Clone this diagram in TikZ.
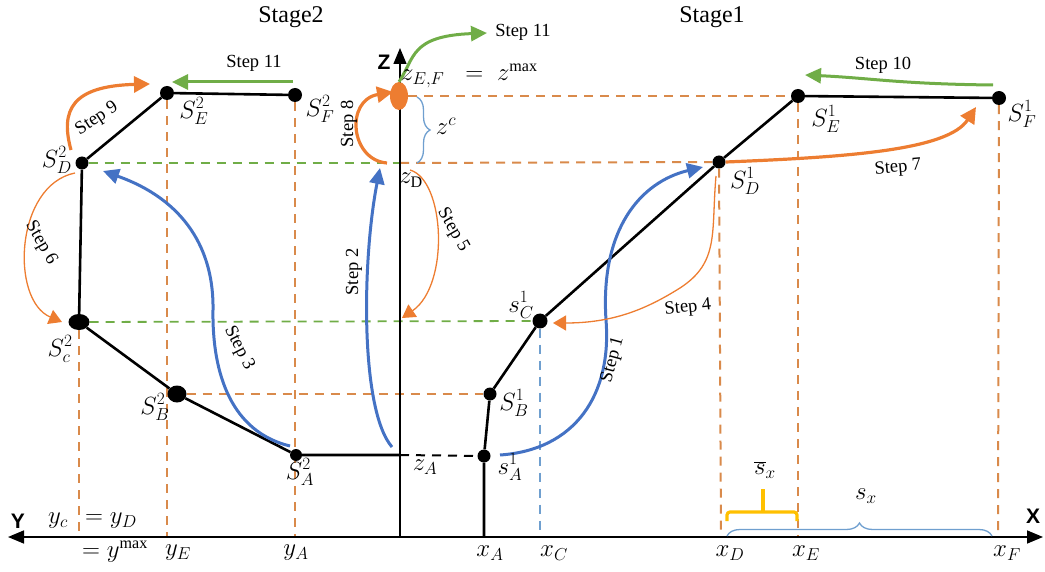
\documentclass[tikz,border=0pt]{standalone}
\usepackage{fontspec}
\setmainfont{Liberation Serif}
\newfontfamily\axfont{Liberation Sans}
\usetikzlibrary{arrows.meta,decorations.pathreplacing,shapes.geometric}
\definecolor{orng}{HTML}{ED7D31}
\definecolor{dorng}{HTML}{D98A4B}
\definecolor{blu}{HTML}{4472C4}
\definecolor{lblu}{HTML}{6F9FCF}
\definecolor{grn}{HTML}{70AD47}
\definecolor{gold}{HTML}{FFC000}
\pgfdeclarelayer{background}
\pgfsetlayers{background,main}
\begin{document}
\begin{tikzpicture}[x=1pt,y=-1pt,
  dot/.style={circle,fill=black,inner sep=0pt,minimum size=13pt},
  bigdot/.style={ellipse,fill=black,inner sep=0pt,minimum width=21pt,minimum height=16pt},
  stg/.style={line width=2.6pt,black},
  odash/.style={dorng,line width=2pt,dash pattern=on 9pt off 7pt},
  gdash/.style={grn,line width=1.8pt,dash pattern=on 9pt off 7pt},
  bdash/.style={lblu,line width=2pt,dash pattern=on 9pt off 7pt},
  kdash/.style={black,line width=2pt,dash pattern=on 9pt off 7pt},
  bluearr/.style={blu,line width=3pt,-{Triangle[length=16pt,width=15pt]}},
  othick/.style={orng,line width=3.2pt,-{Triangle[length=16pt,width=16pt]}},
  othin/.style={orng,line width=1.3pt,-{Triangle[length=13pt,width=15pt]}},
  greenarr/.style={grn,line width=3pt,-{Triangle[length=16pt,width=15pt]}},
  steplab/.style={font=\fontsize{18.5}{22}\selectfont,inner sep=1pt},
  stage/.style={font=\fontsize{24}{28}\selectfont},
  mlab/.style={font=\fontsize{23}{27}\selectfont,inner sep=1pt},
  axl/.style={font=\axfont\fontsize{21}{25}\selectfont\bfseries,inner sep=0pt}
]
\useasboundingbox (0,0) rectangle (1045,572);

% axis coordinates
\coordinate (Ytip) at (8,537);
\coordinate (Xtip) at (1043,537);
\coordinate (O) at (400,537);
\coordinate (Ztip) at (400,48);
\coordinate (xA) at (484,537);
\coordinate (xC) at (540,537);
\coordinate (xD) at (721,537);
\coordinate (xE) at (798,537);
\coordinate (xF) at (998,537);
\coordinate (yC) at (79,537);
\coordinate (yE) at (167,537);
\coordinate (yA) at (295,537);
\coordinate (zA) at (400,455);
\coordinate (zC) at (400,322);
\coordinate (zD) at (400,163);

% points stage 1
\node[dot] (SA1) at (484,456) {};
\node[dot] (SB1) at (490,394) {};
\node[dot,minimum size=15pt] (SC1) at (540,321) {};
\node[dot] (SD1) at (719,162) {};
\node[dot,minimum size=14pt] (SE1) at (798,96) {};
\node[dot,minimum size=14pt] (SF1) at (999,98) {};
% points stage 2
\node[dot,minimum size=12pt] (SA2) at (296,455) {};
\node[bigdot,minimum width=19pt,minimum height=17pt] (SB2) at (177,394) {};
\node[bigdot] (SC2) at (79,322) {};
\node[dot] (SD2) at (82,163) {};
\node[dot,minimum size=14pt] (SE2) at (167,93) {};
\node[dot,minimum size=14pt] (SF2) at (295,95) {};
% z_{E,F}
\node[ellipse,fill=orng,inner sep=0pt,minimum width=18pt,minimum height=28pt] (zEF) at (399,96) {};

\begin{pgfonlayer}{background}
% dashed guides
\draw[odash] (zEF.east) -- (SE1);
\draw[odash] (zD) -- (SD1);
\draw[gdash] (SD2) -- (zD);
\draw[gdash] (SC2) -- (SC1);
\draw[odash] (SB2) -- (SB1);
\draw[kdash] (zA) -- (SA1);
\draw[odash] (SC2) -- (yC);
\draw[odash] (SE2) -- (yE);
\draw[odash] (SF2) -- (yA);
\draw[odash] (SD1) -- (xD);
\draw[odash] (SE1) -- (xE);
\draw[odash] (SF1) -- (xF);
\draw[bdash] (SC1) -- (xC);
% axes
\draw[black,line width=1.6pt,{Triangle[length=16pt,width=13pt]}-{Triangle[length=16pt,width=13pt]}] (Ytip) -- (Xtip);
\draw[black,line width=1.3pt,-{Triangle[length=16pt,width=13pt]}] (O) -- (Ztip);
% stage polylines
\draw[stg] (xA) -- (SA1) -- (SB1) -- (SC1) -- (SD1) -- (SE1) -- (SF1);
\draw[stg] (zA) -- (SA2) -- (SB2) -- (SC2) -- (SD2) -- (SE2) -- (SF2);
\end{pgfonlayer}

% braces
\draw[lblu,line width=1.3pt,decorate,decoration={brace,amplitude=13pt}] (417,97) -- (417,163);
\draw[lblu,line width=1.3pt,decorate,decoration={brace,amplitude=13pt}] (727,536) -- (992,536);
\draw[gold,line width=3.2pt,rounded corners=3pt] (727,521) -- (727,512) -- (797,512) -- (797,521);
\draw[gold,line width=3.2pt] (763,512) -- (763,489);

% step arrows
\coordinate (s1a) at (500,455); \coordinate (s1b) at (703,167);
\draw[bluearr] (s1a) .. controls (575,450) and (612,395) .. (606,320) .. controls (600,230) and (640,182) .. (s1b);
\coordinate (s2a) at (392,447); \coordinate (s2b) at (380,168);
\draw[bluearr] (s2a) .. controls (360,410) and (362,260) .. (s2b);
\coordinate (s3a) at (290,446); \coordinate (s3b) at (103,171);
\draw[bluearr] (s3a) .. controls (232,432) and (212,375) .. (213,310) .. controls (214,250) and (185,200) .. (s3b);
\coordinate (s4a) at (716,176); \coordinate (s4b) at (553,323);
\draw[othin] (s4a) .. controls (711,232) and (720,262) .. (680,288) .. controls (645,310) and (612,323) .. (s4b);
\coordinate (s5a) at (410,170); \coordinate (s5b) at (402,318);
\draw[othin] (s5a) .. controls (445,180) and (450,285) .. (s5b);
\coordinate (s6a) at (75,173); \coordinate (s6b) at (62,322);
\draw[othin] (s6a) .. controls (15,185) and (10,300) .. (s6b);
\coordinate (s7b) at (976,107);
\draw[othick] (SD1.east) .. controls (850,157) and (948,150) .. (s7b);
\coordinate (s8a) at (387,163); \coordinate (s8b) at (393,92);
\draw[othick] (s8a) .. controls (350,160) and (345,100) .. (s8b);
\coordinate (s9a) at (71,150); \coordinate (s9b) at (150,84);
\draw[othick] (s9a) .. controls (60,110) and (72,86) .. (s9b);
\coordinate (s10a) at (993,85); \coordinate (s10b) at (805,75);
\draw[greenarr] (s10a) .. controls (900,84) and (870,78) .. (s10b);
\coordinate (s11a) at (293,82); \coordinate (s11b) at (172,82);
\draw[greenarr] (s11a) -- (s11b);
\coordinate (s11c) at (487,33);
\draw[greenarr] (zEF.north) .. controls (415,58) and (410,36) .. (s11c);

% step labels
\node[steplab,rotate=75] (l1) at (613,360) {Step 1};
\node[steplab,rotate=90] (l2) at (354,272) {Step 2};
\node[steplab,rotate=-63] (l3) at (239,348) {Step 3};
\node[steplab,rotate=6] (l4) at (688,308) {Step 4};
\node[steplab,rotate=-60] (l5) at (453,230) {Step 5};
\node[steplab,rotate=-60] (l6) at (41,243) {Step 6};
\node[steplab,rotate=5] (l7) at (898,168) {Step 7};
\node[steplab,rotate=90] (l8) at (349,124) {Step 8};
\node[steplab,rotate=33] (l9) at (97,119) {Step 9};
\node[steplab] (l10) at (883,65) {Step 10};
\node[steplab] (l11a) at (254,63) {Step 11};
\node[steplab] (l11b) at (523,32) {Step 11};

% stage titles and axis letters
\node[stage] (st2) at (291,17) {Stage2};
\node[stage] (st1) at (712,17) {Stage1};
\node[axl] (Zl) at (384,62) {Z};
\node[axl] (Yl) at (18,521) {Y};
\node[axl] (Xl) at (1033,516) {X};

% point labels
\node[mlab] (tSE2) at (194,111) {$S^{2}_{E}$};
\node[mlab] (tSF2) at (320,109) {$S^{2}_{F}$};
\node[mlab] (tSD2) at (57,160) {$S^{2}_{D}$};
\node[mlab] (tSC2) at (60,349) {$S^{2}_{c}$};
\node[mlab] (tSB2) at (155,407) {$S^{2}_{B}$};
\node[mlab] (tSA2) at (300,472) {$S^{2}_{A}$};
\node[mlab] (tSE1) at (826,119) {$S^{1}_{E}$};
\node[mlab] (tSF1) at (1022,114) {$S^{1}_{F}$};
\node[mlab] (tSD1) at (745,181) {$S^{1}_{D}$};
\node[mlab] (tSC1) at (521,305) {$s^{1}_{C}$};
\node[mlab] (tSB1) at (514,403) {$S^{1}_{B}$};
\node[mlab] (tSA1) at (510,467) {$s^{1}_{A}$};
\node[mlab] (tzA) at (425,467) {$z_{A}$};
\node[mlab] (tzD) at (411,180) {$z_{\mathrm{D}}$};
\node[mlab,anchor=west] (tzEF) at (400,76) {$z_{E,F}\;\;=\;z^{\max}$};
\node[mlab] (tzc) at (446,126) {$z^{c}$};
% axis labels
\node[mlab] (tyc) at (58,521) {$y_{c}$};
\node[mlab] (tyd) at (111,521) {$=y_{D}$};
\node[mlab] (tymax) at (115,552) {$=y^{\max}$};
\node[mlab] (tyE) at (178,553) {$y_{E}$};
\node[mlab] (tyA) at (296,553) {$y_{A}$};
\node[mlab] (txA) at (490,553) {$x_{A}$};
\node[mlab] (txC) at (554,553) {$x_{C}$};
\node[mlab] (txD) at (730,553) {$x_{D}$};
\node[mlab] (txE) at (806,553) {$x_{E}$};
\node[mlab] (txF) at (1007,553) {$x_{F}$};
\node[mlab] (tsbar) at (765,470) {$\overline{s}_{x}$};
\node[mlab] (tsx) at (866,496) {$s_{x}$};
\end{tikzpicture}
\end{document}
